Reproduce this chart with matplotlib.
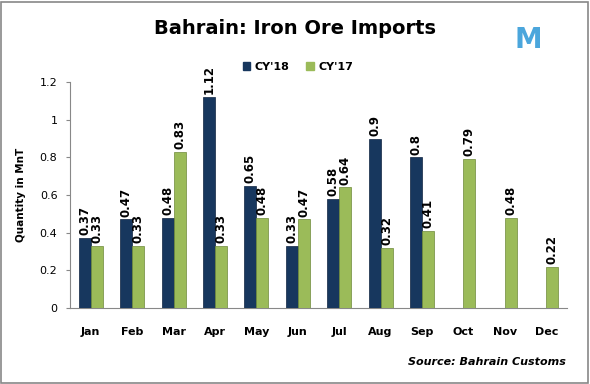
import matplotlib
matplotlib.use("Agg")
import matplotlib.pyplot as plt
import numpy as np
from matplotlib.patches import Patch

months = ["Jan", "Feb", "Mar", "Apr", "May", "Jun", "Jul", "Aug", "Sep", "Oct", "Nov", "Dec"]
cy18 = [0.37, 0.47, 0.48, 1.12, 0.65, 0.33, 0.58, 0.9, 0.8, None, None, None]
cy17 = [0.33, 0.33, 0.83, 0.33, 0.48, 0.47, 0.64, 0.32, 0.41, 0.79, 0.48, 0.22]
yticks = [0, 0.2, 0.4, 0.6, 0.8, 1, 1.2]
ytick_labels = ["0", "0.2", "0.4", "0.6", "0.8", "1", "1.2"]

c18 = "#17375E"
c17 = "#9BBB59"

fig = plt.figure(figsize=(5.9, 3.84), dpi=100)
ax = fig.add_axes([70/590, 1-308/384, 497/590, (308-82)/384])

x = np.arange(len(months))
w = 0.29

def fmt(v):
    return f"{v:.2f}".rstrip("0").rstrip(".")

for i in range(len(months)):
    v = cy18[i]
    if v is not None:
        ax.bar(x[i] - w/2, v, w, color=c18, edgecolor="#0f2440", linewidth=0.5, zorder=3)
        ax.text(x[i] - w/2, v + 0.015, fmt(v), rotation=90, ha="center", va="bottom",
                fontsize=8.5, fontweight="bold", clip_on=False)
    v = cy17[i]
    ax.bar(x[i] + w/2, v, w, color=c17, edgecolor="#6e8a3a", linewidth=0.5, zorder=3)
    ax.text(x[i] + w/2, v + 0.015, fmt(v), rotation=90, ha="center", va="bottom",
            fontsize=8.5, fontweight="bold", clip_on=False)

ax.set_xlim(-0.5, len(months) - 0.5)
ax.set_ylim(0, 1.2)
ax.set_yticks(yticks)
ax.set_yticklabels(ytick_labels, fontsize=8)
ax.set_xticks(x)
ax.set_xticklabels(months, fontsize=8, fontweight="bold")
ax.tick_params(axis="x", length=0, pad=14)
ax.tick_params(axis="y", length=3, color="#888888", pad=6)
for s in ["top", "right"]:
    ax.spines[s].set_visible(False)
ax.spines["left"].set_color("#888888")
ax.spines["bottom"].set_color("#888888")
ax.set_ylabel("Quantity in MnT", fontsize=7.5, fontweight="bold", labelpad=10)

fig.text(0.5, 1-28/384, "Bahrain: Iron Ore Imports", ha="center", va="center",
         fontsize=14, fontweight="bold")

handles = [Patch(facecolor=c18, edgecolor=c18, label="CY'18"),
           Patch(facecolor=c17, edgecolor=c17, label="CY'17")]
fig.legend(handles=handles, loc="center", bbox_to_anchor=(298/590, 1-67/384), ncol=2,
           frameon=False, handlelength=0.7, handleheight=0.7,
           handletextpad=0.4, columnspacing=1.5, prop={"weight": "bold", "size": 8})

fig.text(566/590, 1-362/384, "Source: Bahrain Customs", ha="right", va="center",
         fontsize=8, fontweight="bold", style="italic")

fig.text(528/590, 1-40/384, "M", ha="center", va="center", fontsize=20,
         fontweight="bold", color="#4BA6DC")

fig.patches.append(plt.Rectangle((0.002, 0.003), 0.994, 0.993, transform=fig.transFigure,
                                 fill=False, edgecolor="#888888", linewidth=1.2))

fig.savefig("out.png", dpi=100)
